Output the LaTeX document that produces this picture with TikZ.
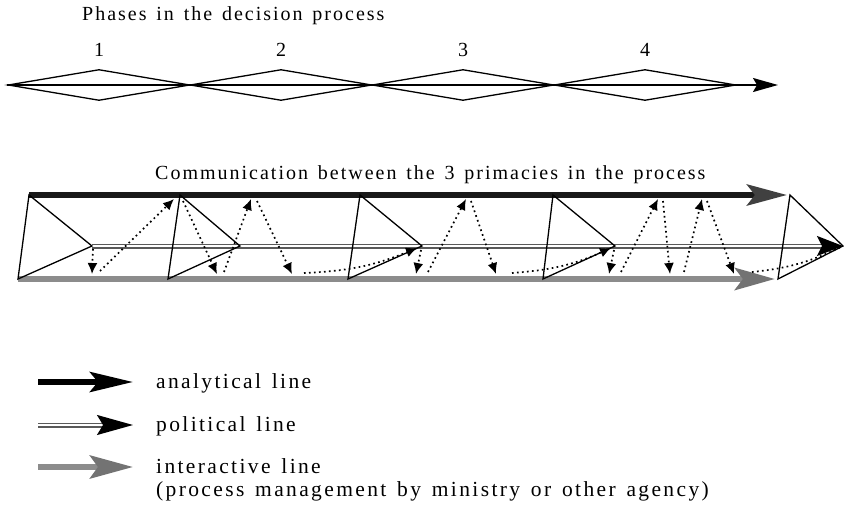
\documentclass[tikz,border=0pt]{standalone}
\usepackage{fontspec}
\setmainfont{Liberation Serif}[LetterSpace=10, WordSpace=1.4]
\newfontfamily\legendfont{Liberation Serif}[LetterSpace=11, WordSpace=1.4]
\usetikzlibrary{arrows.meta,shapes.geometric}

\begin{document}
\begin{tikzpicture}[x=1pt,y=-1pt,
  txt/.style={font=\fontsize{20}{24}\selectfont, inner sep=0pt, anchor=base west},
  legtxt/.style={font=\legendfont\fontsize{21.5}{24}\selectfont, inner sep=0pt, anchor=base west},
  num/.style={font=\fontsize{20}{24}\selectfont, inner sep=0pt, anchor=base},
  phase/.style={diamond, draw, line width=1.3pt, minimum width=182pt, minimum height=31pt, inner sep=0pt},
  wedge/.style={draw, line width=1.3pt, line join=miter},
  talk/.style={line width=1.7pt, dash pattern=on 1.7pt off 3.3pt, -{Latex[length=11pt,width=10pt]}},
  talkend/.style={line width=1.7pt, dash pattern=on 1.7pt off 3.3pt},
  analytic/.style={line width=6pt, draw=black!90, -{Stealth[length=40pt,width=21pt,inset=8pt,color=black!75]}},
  politic/.style={double=white, double distance=1.8pt, line width=1.6pt, draw=black!65, -{Stealth[length=26pt,width=20pt,inset=5pt,color=black]}},
  interact/.style={line width=6.5pt, draw=black!45, -{Stealth[length=40pt,width=22pt,inset=8pt,color=black!55]}}
]
\useasboundingbox (0,0) rectangle (844,508);

% ---- phases of the decision process ----
\node[txt] (ttl1) at (82,21) {Phases in the decision process};
\node[phase] (p1) at (99,85) {};
\node[phase] (p2) at (281,85) {};
\node[phase] (p3) at (463,85) {};
\node[phase] (p4) at (645,85) {};
\foreach \k in {1,2,3,4} \node[num] (n\k) at ([yshift=12pt]p\k.north) {\k};
\coordinate (pend) at (778,85);
\draw[line width=1.6pt, -{Stealth[length=25pt,width=14pt,inset=4pt]}] (p1.west) -- (pend);

% ---- communication between the three primacies ----
\node[txt] (ttl2) at (155,180) {Communication between the 3 primacies in the process};

\coordinate (T1) at (29,195);  \coordinate (B1) at (18,279);  \coordinate (A1) at (92,246);
\coordinate (T2) at (180,195); \coordinate (B2) at (168,279); \coordinate (A2) at (240,246);
\coordinate (T3) at (360,195); \coordinate (B3) at (348,279); \coordinate (A3) at (422,246);
\coordinate (T4) at (553,195); \coordinate (B4) at (543,279); \coordinate (A4) at (615,246);
\coordinate (T5) at (790,195); \coordinate (B5) at (778,279); \coordinate (A5) at (843,246);
\coordinate (aend) at (787,195);
\coordinate (iend) at (775,279);

\draw[interact] (B1) -- (iend);
\draw[analytic] (T1) -- (aend);
\draw[politic] (A1) -- (A5);

\foreach \k in {1,...,5}
  \draw[wedge] (A\k) -- (T\k) -- (B\k) -- cycle;

% dotted exchanges between the lines
\foreach \i/\sx/\sy/\ex/\ey in {
  1/93/249/92/274, 2/100/271/174/199, 3/183/201/217/274, 4/224/272/251/199,
  5/257/201/292/274, 7/421/250/416/274, 8/428/272/466/199,
  9/471/201/496/274, 11/614/250/609/274, 12/621/272/658/199,
  13/663/201/670/274, 14/684/272/702/199, 15/707/201/734/274}
{
  \coordinate (ts\i) at (\sx,\sy);
  \coordinate (te\i) at (\ex,\ey);
  \draw[talk] (ts\i) -- (te\i);
}
% longer exchanges running back up to the political line
\coordinate (ts6) at (304,273);  \coordinate (te6) at (417,248);
\coordinate (ts10) at (512,273); \coordinate (te10) at (611,248);
\coordinate (ts16) at (752,272);
\draw[talk] (ts6) to[bend right=10] (te6);
\draw[talk] (ts10) to[bend right=10] (te10);
\draw[talkend] (ts16) to[bend right=10] (A5);

% ---- legend ----
\coordinate (la1) at (38,382); \coordinate (la2) at (133,382);
\coordinate (lp1) at (38,425); \coordinate (lp2) at (133,425);
\coordinate (li1) at (38,467); \coordinate (li2) at (133,467);
\draw[line width=6pt, draw=black, -{Stealth[length=43pt,width=20pt,inset=8pt]}] (la1) -- (la2);
\draw[politic, -{Stealth[length=36pt,width=20pt,inset=6pt,color=black]}] (lp1) -- (lp2);
\draw[line width=6pt, draw=black!45, -{Stealth[length=43pt,width=23pt,inset=8pt,color=black!55]}] (li1) -- (li2);

\node[legtxt] (lt1) at (156,388) {analytical line};
\node[legtxt] (lt2) at (156,431) {political line};
\node[legtxt] (lt3) at (156,473) {interactive line};
\node[legtxt] (lt4) at (156,496) {(process management by ministry or other agency)};
\end{tikzpicture}
\end{document}
